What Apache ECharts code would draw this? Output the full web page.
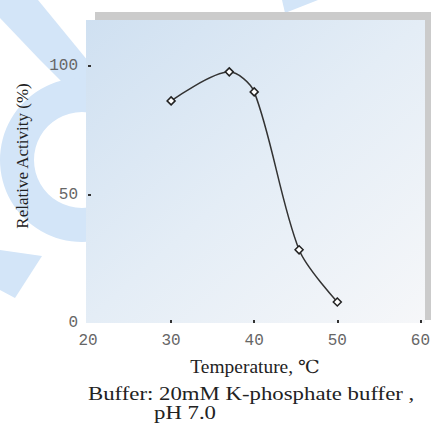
<!DOCTYPE html>
<html>
<head>
<meta charset="utf-8">
<script src="https://cdn.jsdelivr.net/npm/echarts@6/dist/echarts.min.js"></script>
<style>
  html, body { margin: 0; padding: 0; background: #fff; }
  #chart { width: 433px; height: 437px; }
</style>
</head>
<body>
<div id="chart"></div>
<script>
// temperature (deg C) vs relative activity (%)
const temps = [30, 37, 40, 45.4, 50];
const activity = [86.5, 97.8, 90, 28.5, 8.2];
const yTicks = [0, 50, 100];
const xTicks = [20, 30, 40, 50, 60];

const chart = echarts.init(document.getElementById("chart"), null, { renderer: "svg" });
const wm = "#d3e5f8";
const serif = "'Liberation Serif', 'DejaVu Serif', serif";
const mono = "'Liberation Mono', 'DejaVu Sans Mono', monospace";

const option = {
  animation: false,
  backgroundColor: "#fff",
  grid: { left: 88, top: 20, width: 334, height: 303 },
  graphic: [
    // watermark shapes
    { type: "polygon", z: -10, shape: { points: [[0, 0], [38, 0], [120, 100], [120, 140], [40, 60], [0, 18]] }, style: { fill: wm } },
    { type: "ring", z: -10, shape: { cx: 82, cy: 160, r: 82, r0: 48 }, style: { fill: wm } },
    { type: "polygon", z: -10, shape: { points: [[0, 250], [42, 256], [15, 298], [0, 290]] }, style: { fill: wm } },
    { type: "polygon", z: -10, shape: { points: [[282, 0], [318, 0], [285, 13]] }, style: { fill: wm } },
    // frame shadow and plot background
    { type: "rect", z: -5, shape: { x: 95, y: 12, width: 336, height: 308 }, style: { fill: "#cbcbcb" } },
    {
      type: "rect", z: -4, shape: { x: 86, y: 20, width: 339, height: 303 },
      style: {
        fill: new echarts.graphic.LinearGradient(0, 0, 1, 1, [
          { offset: 0, color: "#cfe0f1" },
          { offset: 0.5, color: "#e4edf6" },
          { offset: 1, color: "#f6f7f9" },
        ]),
      },
    },
    // axis titles
    {
      type: "text", x: 22, y: 156, rotation: Math.PI / 2,
      style: { text: "Relative Activity (%)", font: "17px " + serif, fill: "#222", align: "center", verticalAlign: "middle" },
    },
    {
      type: "text", x: 255, y: 367, scaleX: 1.08,
      style: { text: "Temperature, ℃", font: "18px " + serif, fill: "#222", align: "center", verticalAlign: "middle" },
    },
    // buffer note
    {
      type: "text", x: 88, y: 394, scaleX: 1.2,
      style: { text: "Buffer: 20mM K-phosphate buffer ,", font: "19px " + serif, fill: "#222", align: "left", verticalAlign: "middle" },
    },
    {
      type: "text", x: 154, y: 413, scaleX: 1.2,
      style: { text: "pH 7.0", font: "19px " + serif, fill: "#222", align: "left", verticalAlign: "middle" },
    },
  ],
  xAxis: {
    type: "value",
    min: 20,
    max: 60,
    interval: 10,
    axisLine: { show: false },
    splitLine: { show: false },
    axisTick: { show: true, inside: true, length: 3, lineStyle: { color: "#333", width: 2 }, customValues: xTicks.slice(1) },
    axisLabel: { margin: 10, fontFamily: mono, fontSize: 16, color: "#666", customValues: xTicks },
  },
  yAxis: {
    type: "value",
    min: 0,
    max: 118,
    axisLine: { show: false },
    splitLine: { show: false },
    axisTick: { show: true, inside: true, length: 3, lineStyle: { color: "#333", width: 2 }, customValues: yTicks.slice(1) },
    axisLabel: { margin: 10, fontFamily: mono, fontSize: 16, color: "#666", customValues: yTicks },
  },
  series: [
    {
      type: "line",
      data: temps.map((t, i) => [t, activity[i]]),
      smooth: 0.3,
      symbol: "diamond",
      symbolSize: 8,
      lineStyle: { color: "#333", width: 1.5 },
      itemStyle: { color: "#fff", borderColor: "#222", borderWidth: 1.5 },
    },
  ],
};
chart.setOption(option);
</script>
</body>
</html>
